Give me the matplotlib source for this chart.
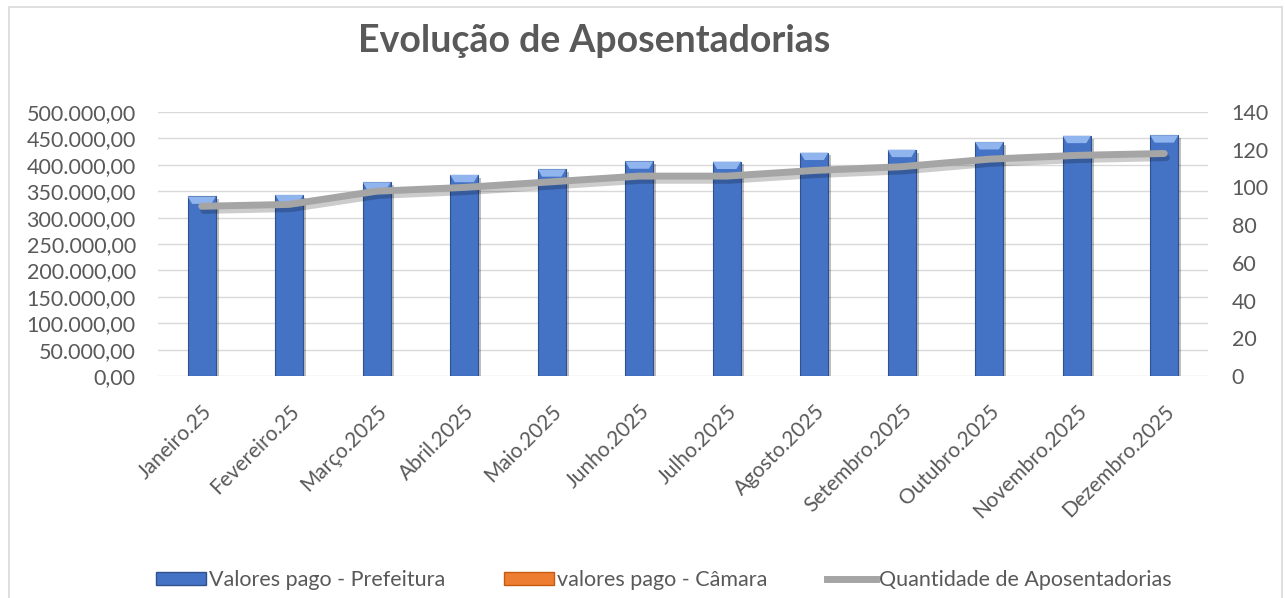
import matplotlib
matplotlib.use("Agg")
import matplotlib.pyplot as plt
import matplotlib.patheffects as pe
from matplotlib.patches import Polygon, Rectangle
from matplotlib.lines import Line2D
from matplotlib.ticker import FuncFormatter, MultipleLocator
import numpy as np

plt.rcParams['font.family'] = ['Lato', 'DejaVu Sans']

categories = ["Janeiro.25", "Fevereiro.25", "Março.2025", "Abril.2025", "Maio.2025",
              "Junho.2025", "Julho.2025", "Agosto.2025", "Setembro.2025",
              "Outubro.2025", "Novembro.2025", "Dezembro.2025"]
prefeitura = [340000, 343000, 367000, 381000, 391500, 406500, 406000, 423000,
              428500, 443000, 455000, 456000]
camara = [0, 0, 0, 0, 0, 0, 0, 0, 0, 0, 0, 0]
quantidade = [90, 91, 98, 100, 103, 106, 106, 109, 111, 115, 117, 118]

series_names = ["Valores pago - Prefeitura", "valores pago - Câmara",
                "Quantidade de Aposentadorias"]
title = "Evolução de Aposentadorias"

BLUE = "#4472C4"
BLUE_DARK = "#2F528F"
BLUE_LIGHT = "#8FB4EE"
ORANGE = "#ED7D31"
GRAY = "#A5A5A5"
TXT = "#595959"
GRID = "#D9D9D9"

fig = plt.figure(figsize=(12.85, 5.98), dpi=100)
fig.patches.append(Rectangle((9/1285, -0.05), (1282-9)/1285, 1.05 - 6.5/598,
                             transform=fig.transFigure, fill=False,
                             edgecolor="#D9D9D9", linewidth=1.2, zorder=0))

ax = fig.add_axes([158/1285, 1-376/598, 1050/1285, 264/598])
ax2 = ax.twinx()
ax.set_zorder(1)
ax2.set_zorder(2)
ax.patch.set_visible(False)
ax2.patch.set_visible(False)

x = np.arange(len(categories))
w = 0.32
ax.bar(x, prefeitura, width=w, color=BLUE, edgecolor=BLUE_DARK,
       linewidth=0.8, zorder=3,
       path_effects=[pe.SimplePatchShadow(offset=(2, -2), shadow_rgbFace="#000000", alpha=0.25), pe.Normal()])
ax.bar(x, camara, width=w, color=ORANGE, linewidth=0, zorder=3)

# top bevel highlight derived from bar values
for xi, v in zip(x, prefeitura):
    d = 14000
    poly = Polygon([(xi - w/2, v), (xi + w/2, v), (xi + w/2 - 0.05, v - d),
                    (xi - w/2 + 0.05, v - d)], closed=True,
                   facecolor=BLUE_LIGHT, edgecolor="none", zorder=4)
    ax.add_patch(poly)

ax2.plot(x, quantidade, color=GRAY, linewidth=5, solid_capstyle='round', zorder=5,
         path_effects=[pe.SimpleLineShadow(offset=(1.5, -3), shadow_color="#000000", alpha=0.2), pe.Normal()])

ax.set_xlim(-0.5, len(categories) - 0.5)
ax.set_ylim(0, 500000)
ax2.set_ylim(0, 140)
ax.yaxis.set_major_locator(MultipleLocator(50000))
ax2.yaxis.set_major_locator(MultipleLocator(20))

def br(v, pos):
    s = f"{v:,.2f}"
    return s.replace(",", "X").replace(".", ",").replace("X", ".")
ax.yaxis.set_major_formatter(FuncFormatter(br))

ax.grid(axis='y', color=GRID, linewidth=1, zorder=0)
ax.set_axisbelow(True)
for a in (ax, ax2):
    for s in a.spines.values():
        s.set_visible(False)
ax.tick_params(axis='y', length=0, labelsize=15.5, labelcolor=TXT, pad=16)
ax2.tick_params(axis='y', length=0, labelsize=15.5, labelcolor=TXT, pad=17)
ax.set_xticks(x)
ax.set_xticklabels(categories, rotation=45, ha='right', rotation_mode='anchor')
ax.tick_params(axis='x', length=0, labelsize=15, labelcolor=TXT, pad=18)

fig.text(594/1285, 1-41/598, title, ha='center', va='center', fontsize=27,
         fontweight='bold', color=TXT)

handles = [Rectangle((0, 0), 1, 1, facecolor=BLUE, edgecolor=BLUE_DARK),
           Rectangle((0, 0), 1, 1, facecolor=ORANGE, edgecolor="#C55A11"),
           Line2D([0], [0], color=GRAY, linewidth=5)]
fig.legend(handles, series_names, loc='center', bbox_to_anchor=(664/1285, 1-580/598),
           ncol=3, frameon=False, fontsize=15.5, labelcolor=TXT, handlelength=2.3,
           handleheight=0.55, handletextpad=0.15, columnspacing=2.75)

fig.savefig("out.png", dpi=100)
